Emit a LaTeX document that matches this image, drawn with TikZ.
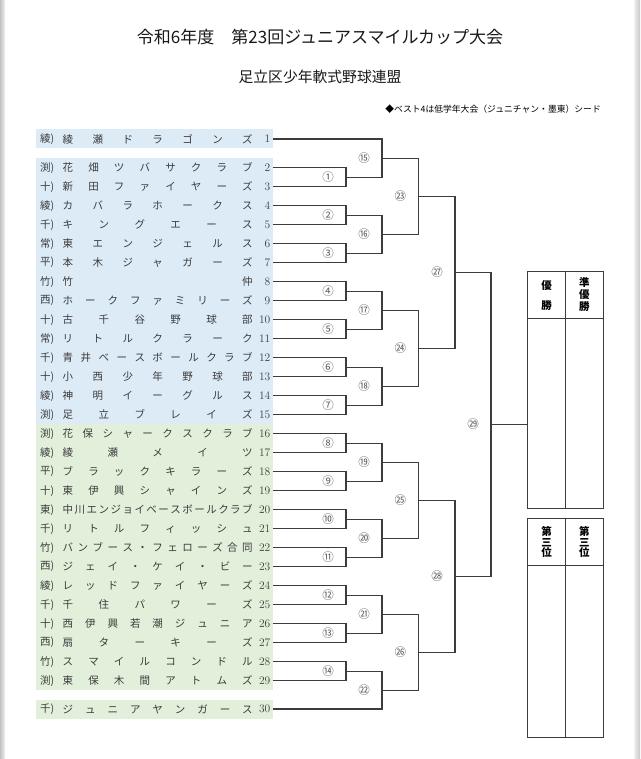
\documentclass[tikz,border=0pt]{standalone}
\usepackage{fontspec}
\usepackage{xcolor}
\newfontfamily\jp{Noto Sans CJK JP}
\usetikzlibrary{calc}
\definecolor{rowblue}{HTML}{DDEBF7}
\definecolor{rowgreen}{HTML}{E2EFDA}
\definecolor{inkgray}{HTML}{3C3C3C}
\def\spreadchars#1{\spreadnext#1\relax}
\def\spreadnext#1#2{#1\ifx\relax#2\else\hfill\expandafter\spreadnext\expandafter#2\fi}

\begin{document}
\begin{tikzpicture}[x=1pt,y=-1pt,
	bracket/.style={draw=inkgray, line width=1.1pt},
	frame/.style={draw=inkgray, line width=1.1pt},
	pref/.style={anchor=west, inner sep=0pt, text=inkgray, font=\jp\fontsize{10.5}{12}\selectfont},
	tname/.style={anchor=west, inner sep=0pt, text=inkgray, font=\jp\fontsize{10.5}{12}\selectfont},
	tnum/.style={anchor=east, inner sep=0pt, text=inkgray, font=\fontsize{11.5}{12}\selectfont},
	num/.style={inner sep=0pt, text=black!65, font=\jp\fontsize{11.5}{12}\selectfont},
	cellhead/.style={inner sep=0pt, align=center, font=\jp\bfseries\fontsize{10.5}{12}\selectfont}]
	\useasboundingbox (0,0) rectangle (640,759);
	\fill[white] (0,0) rectangle (640,759);
	\shade[left color=black!24, right color=black!8] (0,0) rectangle (4.5,759);
	\shade[left color=black!6, right color=black!22] (634,0) rectangle (640,759);
	\node[font=\jp\fontsize{17}{20}\selectfont, text=black!90] (title) at (320,37.3) {令和6年度　第23回ジュニアスマイルカップ大会};
	\node[font=\jp\fontsize{14.8}{17}\selectfont, text=black!90] (league) at (320,77.3) {足立区少年軟式野球連盟};
	\node[anchor=east, inner sep=0pt, font=\jp\fontsize{8.8}{10}\selectfont] (note) at (601,109.3) {◆ベスト4は低学年大会（ジュニチャン・墨東）シード};
	\fill[rowblue] (36,129.5) rectangle (273,148.5);
	\fill[rowblue] (36,158.2) rectangle (273,424.2);
	\fill[rowgreen] (36,424.2) rectangle (273,690.2);
	\fill[rowgreen] (36,699.5) rectangle (273,718.5);
	\foreach \n/\pre/\name in {1/綾/綾瀬ドラゴンズ, 2/渕/花畑ツバサクラブ, 3/十/新田ファイヤーズ, 4/綾/カバラホークス, 5/千/キングエース, 6/常/東エンジェルス, 7/平/本木ジャガーズ, 8/竹/竹仲, 9/西/ホークファミリーズ, 10/十/古千谷野球部, 11/常/リトルクラーク, 12/千/青井ベースボールクラブ, 13/十/小西少年野球部, 14/綾/神明イーグルス, 15/渕/足立ブレイズ, 16/渕/花保シャークスクラブ, 17/綾/綾瀬メイツ, 18/平/ブラックキラーズ, 19/十/東伊興シャインズ, 20/東/中川エンジョイベースボールクラブ, 21/千/リトルフィッシュ, 22/竹/バンブース・フェローズ合同, 23/西/ジェイ・ケイ・ビー, 24/綾/レッドファイヤーズ, 25/千/千住パワーズ, 26/十/西伊興若潮ジュニア, 27/西/扇ターキーズ, 28/竹/スマイルコンドル, 29/渕/東保木間アトムズ, 30/千/ジュニアヤンガース}{
		\pgfmathsetmacro\ty{ifthenelse(\n==1,139,ifthenelse(\n==30,709,167.7+(\n-2)*19))}
		\node[pref] (p\n) at (40,\ty) {\pre)};
		\node[tname] (n\n) at (62.5,\ty) {\hbox to 190pt{\expandafter\spreadchars\expandafter{\name}}};
		\node[tnum] (k\n) at (270.5,\ty) {\n};
		\coordinate (t\n) at (273,\ty);
	}
	\coordinate (L1) at (346,0);
	\coordinate (L2) at (382,0);
	\coordinate (L3) at (418.3,0);
	\coordinate (L4) at (455,0);
	\coordinate (L5) at (491,0);
	\foreach \k/\a/\b/\lv/\c in {1/t2/t3/1/①, 2/t4/t5/1/②, 3/t6/t7/1/③, 4/t8/t9/1/④, 5/t10/t11/1/⑤, 6/t12/t13/1/⑥, 7/t14/t15/1/⑦, 8/t16/t17/1/⑧, 9/t18/t19/1/⑨, 10/t20/t21/1/⑩, 11/t22/t23/1/⑪, 12/t24/t25/1/⑫, 13/t26/t27/1/⑬, 14/t28/t29/1/⑭, 15/t1/m1/2/⑮, 16/m2/m3/2/⑯, 17/m4/m5/2/⑰, 18/m6/m7/2/⑱, 19/m8/m9/2/⑲, 20/m10/m11/2/⑳, 21/m12/m13/2/㉑, 22/m14/t30/2/㉒, 23/m15/m16/3/㉓, 24/m17/m18/3/㉔, 25/m19/m20/3/㉕, 26/m21/m22/3/㉖, 27/m23/m24/4/㉗, 28/m25/m26/4/㉘, 29/m27/m28/5/㉙}{
		\coordinate (h\k) at ($(\a)!.5!(\b)$);
		\coordinate (m\k) at (h\k -| L\lv);
		\draw[bracket] (\a) -| (m\k) |- (\b);
		\node[num] (c\k) at ($(m\k)+(-18,0)$) {\c};
	}
	\node[frame, minimum width=76pt, minimum height=236.6pt, inner sep=0pt] (win) at (565.3,390) {};
	\node[frame, minimum width=76pt, minimum height=219pt, inner sep=0pt] (third) at (565.3,627.8) {};
	\draw[frame] (win.north) -- (win.south);
	\draw[frame] ([yshift=-47.6pt]win.north west) -- ([yshift=-47.6pt]win.north east);
	\draw[frame] (third.north) -- (third.south);
	\draw[frame] ([yshift=-47.7pt]third.north west) -- ([yshift=-47.7pt]third.north east);
	\draw[bracket] (m29) -- (m29 -| win.west);
	\node[cellhead] (champ) at (546.7,295.3) {優\\[8pt]勝};
	\node[cellhead] (runner) at (584.3,294.7) {準\\優\\勝};
	\node[cellhead] (thirdA) at (546.7,542.2) {第\\[-1.5pt]三\\[-1.5pt]位};
	\node[cellhead] (thirdB) at (584.3,542.2) {第\\[-1.5pt]三\\[-1.5pt]位};
\end{tikzpicture}
\end{document}
